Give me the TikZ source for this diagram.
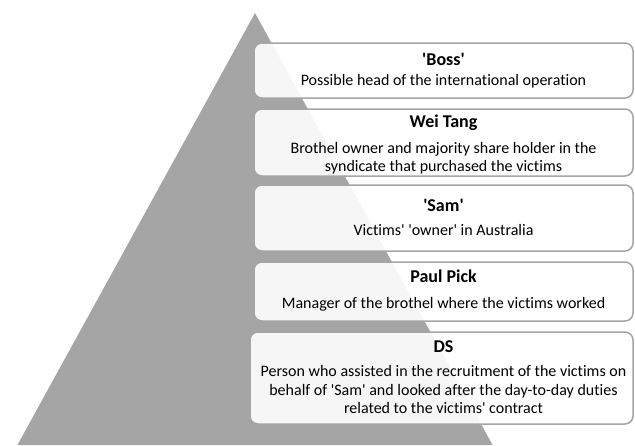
\documentclass[tikz,border=0pt]{standalone}
\usepackage{fontspec}
\setmainfont{Carlito}[Ligatures=NoCommon]
\definecolor{pyrgrey}{HTML}{A5A5A5}
% straight apostrophe
\newcommand{\sq}{\textquotesingle}
\begin{document}
\begin{tikzpicture}[x=1pt,y=-1pt,
  tier/.style={draw=pyrgrey,line width=1.5pt,fill=white,fill opacity=0.9,
    rounded corners=8pt},
  ttl/.style={font=\fontsize{18}{21}\selectfont\bfseries,inner sep=0pt,anchor=base},
  desc/.style={font=\fontsize{16}{18.3}\selectfont,inner sep=0pt,align=center,anchor=base}]
\useasboundingbox (0,0) rectangle (635,445);
% pyramid
\fill[pyrgrey] (255,13) -- (492.6,445) -- (17.4,445) -- cycle;
% tiers
\draw[tier] (254,43) rectangle (633,98);
\draw[tier] (254,109) rectangle (633,176);
\draw[tier] (254,185) rectangle (633,251);
\draw[tier] (254,262) rectangle (633,321);
\draw[tier] (250,332) rectangle (633,424);
% labels (multi-line nodes are placed by the baseline of their last line)
\node[ttl] (t1) at (443.5,65) {\sq Boss\sq};
\node[desc] (d1) at (443.5,85) {Possible head of the international operation};
\node[ttl] (t2) at (443.5,127.3) {Wei Tang};
\node[desc] (d2) at (443.5,171.7) {Brothel owner and majority share holder in the\\syndicate that purchased the victims};
\node[ttl] (t3) at (443.5,211.7) {\sq Sam\sq};
\node[desc] (d3) at (443.5,235) {Victims\sq{} \sq owner\sq{} in Australia};
\node[ttl] (t4) at (443.5,282.7) {Paul Pick};
\node[desc] (d4) at (443.5,308.3) {Manager of the brothel where the victims worked};
\node[ttl] (t5) at (443.5,352.7) {DS};
\node[desc] (d5) at (443.5,413.3) {Person who assisted in the recruitment of the victims on\\behalf of \sq Sam\sq{} and looked after the day-to-day duties\\related to the victims\sq{} contract};
\end{tikzpicture}
\end{document}
